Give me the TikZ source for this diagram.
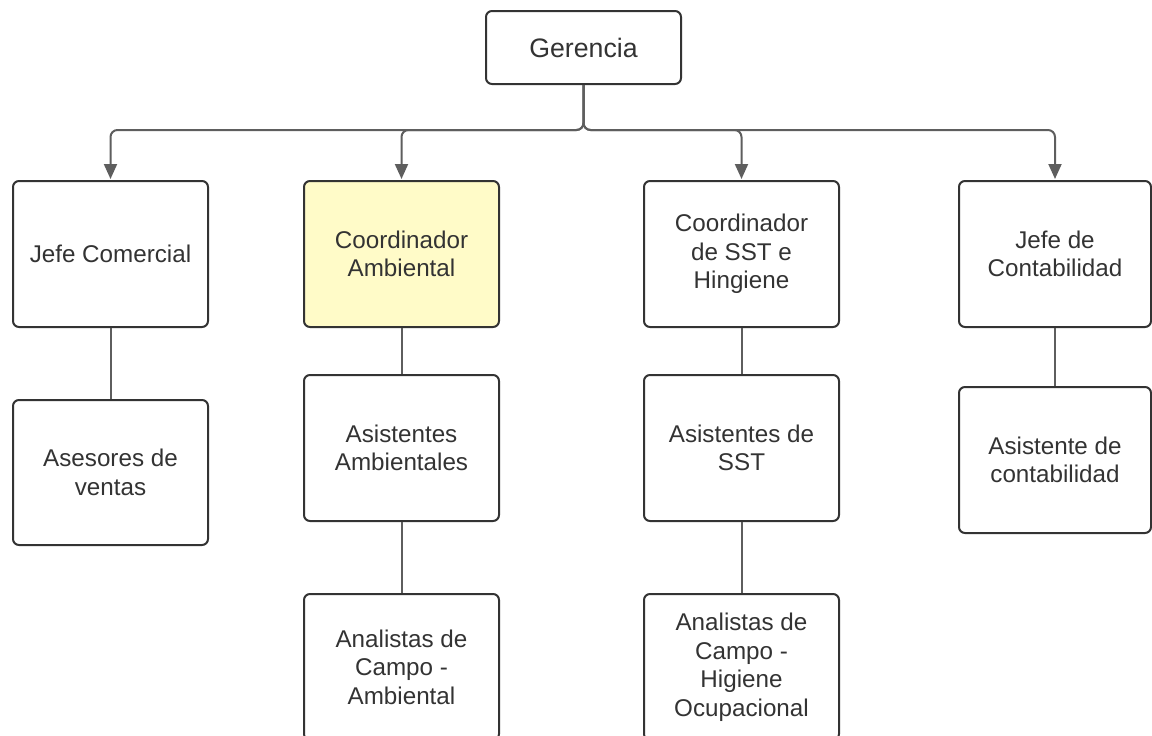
\documentclass[tikz,border=0pt]{standalone}
\usepackage{fontspec}
\setmainfont{Liberation Sans}
\usetikzlibrary{arrows.meta,calc}
\definecolor{boxline}{HTML}{333333}
\definecolor{connline}{HTML}{5E5E5E}
\definecolor{txt}{HTML}{333333}
\definecolor{hiyellow}{HTML}{FFFBC8}
\tikzset{
  orgbox/.style={draw=boxline, line width=2pt, rounded corners=6pt, fill=white,
    minimum width=195pt, minimum height=146pt, inner sep=2pt, align=center,
    text=txt, font=\fontsize{24.2pt}{28.5pt}\selectfont},
  conn/.style={draw=connline, line width=2pt},
  arr/.style={conn, rounded corners=7pt, -{Triangle[length=15pt,width=13pt]}},
}
\begin{document}
\begin{tikzpicture}[x=1pt,y=-1pt]
\useasboundingbox (0,0) rectangle (1152,736);
\node[orgbox, minimum height=73pt, font=\fontsize{26.7pt}{31pt}\selectfont] (ger) at (583.5,47.5) {Gerencia};
\node[orgbox] (jc) at (110.5,254) {Jefe Comercial};
\node[orgbox, fill=hiyellow] (ca) at (401.5,254) {Coordinador\\Ambiental};
\node[orgbox] (cs) at (741.5,254) {Coordinador\\de SST e\\Hingiene};
\node[orgbox, minimum width=192pt] (jdc) at (1055,254) {Jefe de\\Contabilidad};
\node[orgbox, minimum height=145pt] (av) at (110.5,472.5) {Asesores de\\ventas};
\node[orgbox] (aa) at (401.5,448) {Asistentes\\Ambientales};
\node[orgbox] (as) at (741.5,448) {Asistentes de\\SST};
\node[orgbox, minimum width=192pt] (adc) at (1055,460) {Asistente de\\contabilidad};
\node[orgbox] (ana) at (401.5,667) {Analistas de\\Campo -\\Ambiental};
\node[orgbox] (anh) at (741.5,667) {Analistas de\\Campo -\\Higiene\\Ocupacional};
\coordinate (bus) at (583.5,130);
\foreach \c in {jc,ca,cs,jdc}{
  \draw[arr] (ger.south) -- (ger.south |- bus) -| ([yshift=1pt]\c.north);
}
\draw[conn] (jc.south) -- (av.north);
\draw[conn] (ca.south) -- (aa.north);
\draw[conn] (aa.south) -- (ana.north);
\draw[conn] (cs.south) -- (as.north);
\draw[conn] (as.south) -- (anh.north);
\draw[conn] (jdc.south) -- (adc.north);
\end{tikzpicture}
\end{document}
